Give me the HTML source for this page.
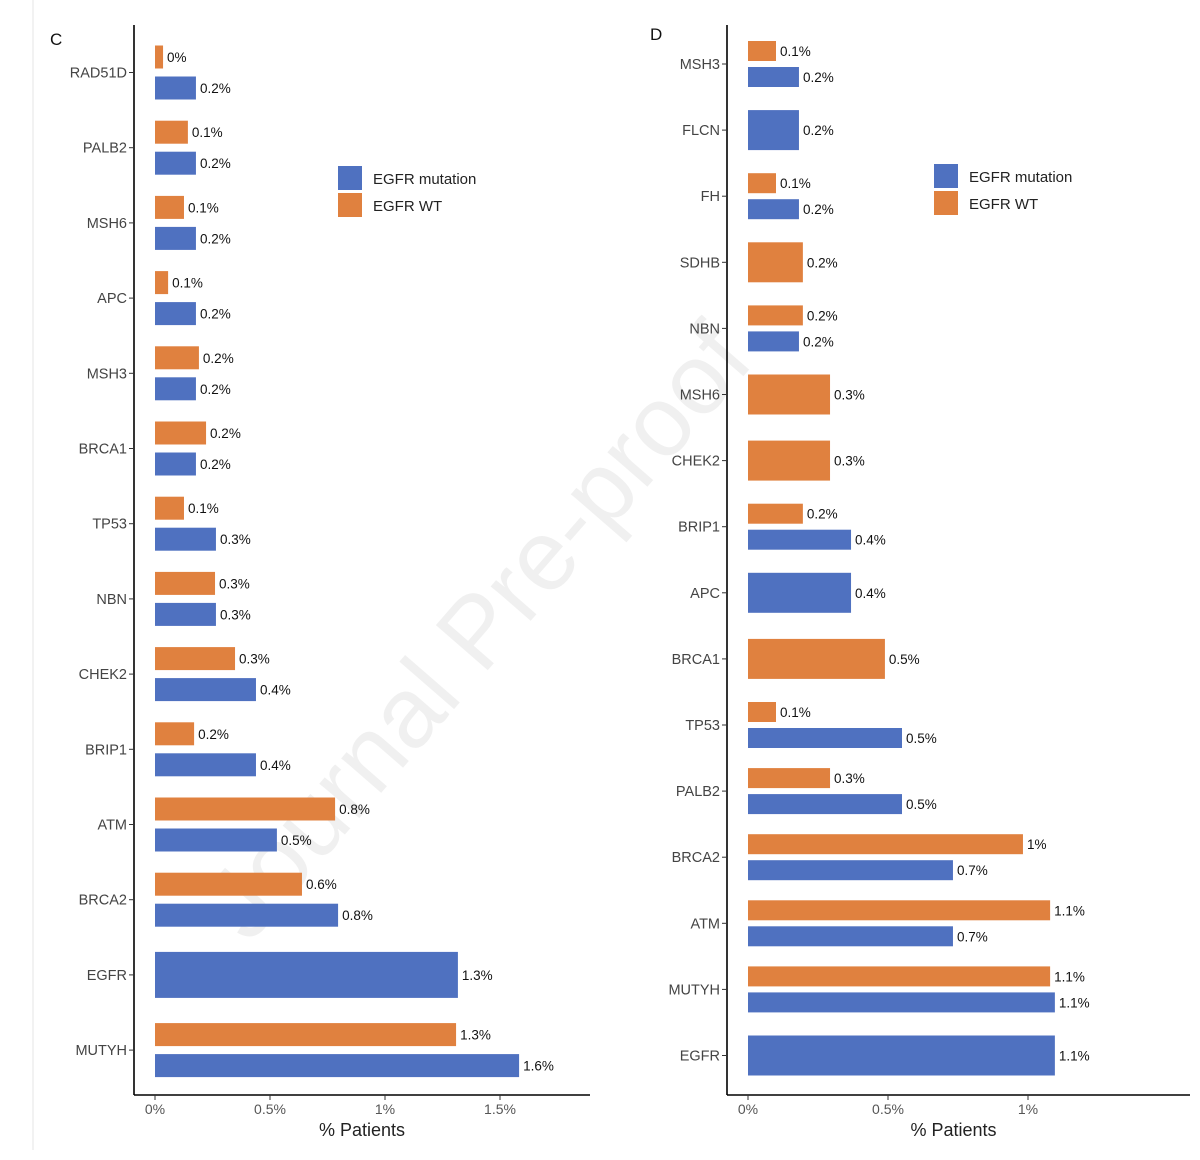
<!DOCTYPE html>
<html><head><meta charset="utf-8">
<style>
html,body{margin:0;padding:0;background:#fff;}
svg{display:block;font-family:"Liberation Sans",sans-serif;}
</style></head>
<body>
<svg id="chart" width="1200" height="1160" viewBox="0 0 1200 1160">
<line x1="33" y1="0" x2="33" y2="1150" stroke="#e4e4e4" stroke-width="1"/>
<text x="249" y="945" transform="rotate(-49 249 945)" font-size="100" fill="#000" fill-opacity="0.06">Journal Pre-proof</text>
<g id="panelC"></g>
<g id="panelD"></g>
</svg>
<script>
// Panel C data
const catsC = ["RAD51D","PALB2","MSH6","APC","MSH3","BRCA1","TP53","NBN","CHEK2","BRIP1","ATM","BRCA2","EGFR","MUTYH"];
const wtC   = [0.035,0.143,0.126,0.057,0.191,0.222,0.126,0.261,0.348,0.170,0.783,0.639,null,1.309];
const mutC  = [0.178,0.178,0.178,0.178,0.178,0.178,0.265,0.265,0.439,0.439,0.530,0.796,1.317,1.583];
const wtLabC  = ["0%","0.1%","0.1%","0.1%","0.2%","0.2%","0.1%","0.3%","0.3%","0.2%","0.8%","0.6%",null,"1.3%"];
const mutLabC = ["0.2%","0.2%","0.2%","0.2%","0.2%","0.2%","0.3%","0.3%","0.4%","0.4%","0.5%","0.8%","1.3%","1.6%"];
const ticksC = [0,0.5,1,1.5];
const tickLabC = ["0%","0.5%","1%","1.5%"];
// Panel D data
const catsD = ["MSH3","FLCN","FH","SDHB","NBN","MSH6","CHEK2","BRIP1","APC","BRCA1","TP53","PALB2","BRCA2","ATM","MUTYH","EGFR"];
const wtD   = [0.1,null,0.1,0.196,0.196,0.293,0.293,0.196,null,0.489,0.1,0.293,0.982,1.079,1.079,null];
const mutD  = [0.182,0.182,0.182,null,0.182,null,null,0.368,0.368,null,0.55,0.55,0.732,0.732,1.096,1.096];
const wtLabD  = ["0.1%",null,"0.1%","0.2%","0.2%","0.3%","0.3%","0.2%",null,"0.5%","0.1%","0.3%","1%","1.1%","1.1%",null];
const mutLabD = ["0.2%","0.2%","0.2%",null,"0.2%",null,null,"0.4%","0.4%",null,"0.5%","0.5%","0.7%","0.7%","1.1%","1.1%"];
const ticksD = [0,0.5,1];
const tickLabD = ["0%","0.5%","1%"];

const NS="http://www.w3.org/2000/svg";
const BLUE="#4f71c0", ORANGE="#e0813f";
function mk(parent,tag,attrs,text){const e=document.createElementNS(NS,tag);for(const k in attrs)e.setAttribute(k,attrs[k]);if(text!=null)e.textContent=text;parent.appendChild(e);return e;}

function drawPanel(g,cfg){
  const {cats,wt,mut,wtLab,mutLab,ticks,tickLab,axX,x0,pxPer,y0,step,barH,gap,axRight,letter,letterX,letterY,legX,legY}=cfg;
  const xs=v=>x0+v*pxPer;
  const ys=i=>y0+i*step;
  let l=mk(g,"line",{x1:axX,y1:25,x2:axX,y2:1095,stroke:"#000","stroke-width":1.6});
  
  
  l=mk(g,"line",{x1:axX,y1:1095,x2:axRight,y2:1095,stroke:"#000","stroke-width":1.6});
  
  
  let t=mk(g,"text",{x:letterX,y:letterY,"font-size":17,fill:"#111"},letter);
  
  
  ticks.forEach((v,i)=>{
    const tk=mk(g,"line",{x1:xs(v),y1:1095,x2:xs(v),y2:1100,stroke:"#333"});
    
    
    const tl=mk(g,"text",{x:xs(v),y:1114,"font-size":14,fill:"#555","text-anchor":"middle"},tickLab[i]);
    
    
  });
  t=mk(g,"text",{x:(axX+axRight)/2+(letter==="C"?0:-5),y:1136,"font-size":18,fill:"#222","text-anchor":"middle"},"% Patients");
  
  
  cats.forEach((c,i)=>{
    const cy=ys(i);
    const tk=mk(g,"line",{x1:axX-5,y1:cy,x2:axX,y2:cy,stroke:"#333"});
    
    
    const cl=mk(g,"text",{x:axX-7,y:cy+5,"font-size":14.5,fill:"#444","text-anchor":"end"},c);
    
    
    const both=wt[i]!=null&&mut[i]!=null;
    const bars=[];
    if(wt[i]!=null) bars.push({v:wt[i],lab:wtLab[i],col:ORANGE,name:'bar-egfr-wt',y:both?cy-gap/2-barH:cy-barH});
    if(mut[i]!=null) bars.push({v:mut[i],lab:mutLab[i],col:BLUE,name:'bar-egfr-mutation',y:both?cy+gap/2:cy-barH});
    bars.forEach(b=>{
      const h=both?barH:barH*2;
      const r=mk(g,"rect",{x:x0,y:b.y,width:xs(b.v)-x0,height:h,fill:b.col});
      
      
      const vl=mk(g,"text",{x:xs(b.v)+4,y:b.y+h/2+5,"font-size":13.5,fill:"#111"},b.lab);
      
      
    });
  });
  [["EGFR mutation",BLUE],["EGFR WT",ORANGE]].forEach((e,i)=>{
    const lg=mk(g,"g",{});
    
    
    mk(lg,"rect",{x:legX,y:legY+i*27,width:24,height:24,fill:e[1]});
    mk(lg,"text",{x:legX+35,y:legY+i*27+18,"font-size":15,fill:"#222"},e[0]);
  });
}
drawPanel(document.getElementById("panelC"),{cats:catsC,wt:wtC,mut:mutC,wtLab:wtLabC,mutLab:mutLabC,ticks:ticksC,tickLab:tickLabC,
  axX:134,x0:155,pxPer:230,y0:72.5,step:75.2,barH:23,gap:8,axRight:590,letter:"C",letterX:50,letterY:45,legX:338,legY:166});
drawPanel(document.getElementById("panelD"),{cats:catsD,wt:wtD,mut:mutD,wtLab:wtLabD,mutLab:mutLabD,ticks:ticksD,tickLab:tickLabD,
  axX:727,x0:748,pxPer:280,y0:64,step:66.1,barH:20,gap:6,axRight:1190,letter:"D",letterX:650,letterY:40,legX:934,legY:164});
</script>
</body></html>
